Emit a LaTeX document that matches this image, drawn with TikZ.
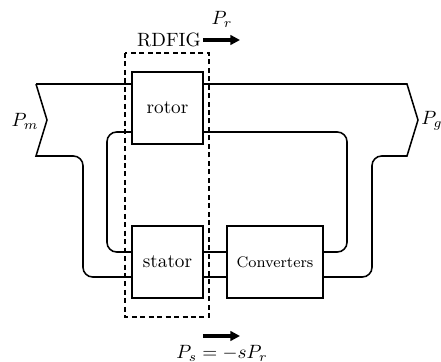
\documentclass[tikz,border=0pt]{standalone}
\usepackage{amsmath}
\usepackage{amssymb}
\usetikzlibrary{arrows.meta}

\tikzset{
	blk/.style={draw, line width=0.8pt, minimum width=36.9pt, minimum height=37.4pt, inner sep=0pt},
	flow/.style={line width=0.8pt},
	pow/.style={line width=1.6pt, -{Triangle[length=5pt,width=5pt]}},
}

\begin{document}
\begin{tikzpicture}[x=0.52pt, y=-0.52pt]
	
	\useasboundingbox (0,0) rectangle (441,362);
	
	\node[blk] (rotor) at (167.5,108) {rotor};
	\node[blk] (stator) at (167.5,262) {stator};
	\node[blk, minimum width=49.9pt] (conv) at (275,262) {\footnotesize Converters};
	
	\coordinate (mtop) at (36,84);
	\coordinate (mtip) at (47,120);
	\coordinate (mbot) at (36,156);
	\coordinate (gtop) at (407,84);
	\coordinate (gtip) at (418,120);
	\coordinate (gbot) at (407,156);
	\coordinate (hi) at (0,132);
	\coordinate (mid) at (0,252);
	\coordinate (lo) at (0,277);
	
	% outer path
	\draw[flow] (mtop) -- (mtop -| rotor.west);
	\draw[flow] (mtop -| rotor.east) -- (gtop) -- (gtip) -- (gbot)
		[rounded corners=5] -- (372,156) -- (372,277) -- (lo -| conv.east);
	\draw[flow] (mtop) -- (mtip) -- (mbot)
		[rounded corners=5] -- (83,156) -- (83,277) -- (lo -| stator.west);
	% inner path
	\draw[flow, rounded corners=5] (hi -| rotor.west) -- (107,132) -- (107,252) -- (mid -| stator.west);
	\draw[flow, rounded corners=5] (hi -| rotor.east) -- (347,132) -- (347,252) -- (mid -| conv.east);
	\draw[flow] (mid -| stator.east) -- (mid -| conv.west);
	\draw[flow] (lo -| stator.east) -- (lo -| conv.west);
	
	\draw[line width=0.8pt, dash pattern=on 2.6pt off 1.8pt] (125,53) rectangle (209,317);
	
	\node (pm) at (25,121) {$P_m$};
	\node[anchor=west, inner sep=1pt] (pg) at (419,121) {$P_g$};
	
	\node[anchor=east, inner sep=1pt] (rdfig) at (203,40) {RDFIG};
	\draw[pow] (rdfig.east) -- ++(37,0) coordinate (pr);
	\node (prl) at (222,19) {$P_r$};
	
	\coordinate (ps) at (203,336);
	\draw[pow] (ps) -- ++(37,0);
	\node (psl) at (222,353) {$P_s = -sP_r$};
	
\end{tikzpicture}
\end{document}
